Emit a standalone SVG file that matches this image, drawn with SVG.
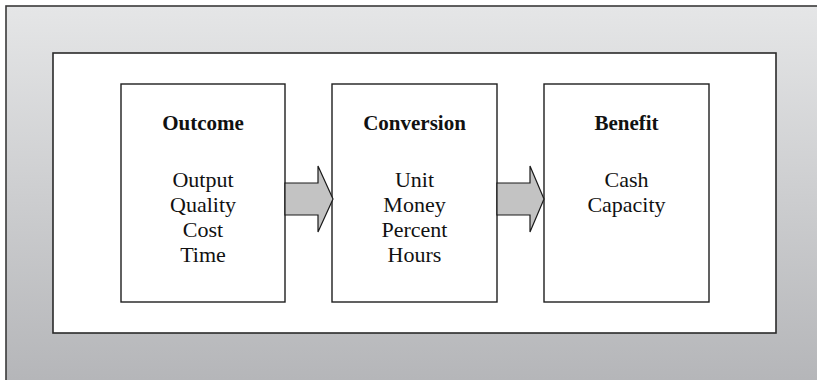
<svg xmlns="http://www.w3.org/2000/svg" width="817" height="380" viewBox="0 0 817 380">
  <defs>
    <linearGradient id="bgGrad" gradientUnits="userSpaceOnUse" x1="0" y1="6" x2="0" y2="380">
      <stop offset="0" stop-color="#e5e6e7"/>
      <stop offset="1" stop-color="#b5b6b9"/>
    </linearGradient>
  </defs>
  <style>
    .frame { fill: url(#bgGrad); stroke: #3a3a3a; stroke-width: 1.6; }
    .panel { fill: #ffffff; stroke: #2a2a2a; stroke-width: 1.6; }
    .box { fill: #ffffff; stroke: #1e1e1e; stroke-width: 1.4; }
    .arrow { fill: #c3c3c3; stroke: #1a1a1a; stroke-width: 1.2; stroke-linejoin: miter; }
    .title { font-family: "Liberation Serif", "Times New Roman", serif; font-size: 21px; font-weight: bold; fill: #111; text-anchor: middle; }
    .item { font-family: "Liberation Serif", "Times New Roman", serif; font-size: 22px; fill: #111; text-anchor: middle; }
  </style>

  <!-- background frame, running off the right and bottom edges -->
  <rect class="frame" x="6" y="6" width="830" height="400"/>
  <!-- white panel -->
  <rect class="panel" x="53" y="53" width="723" height="280"/>

  <g id="outcome">
    <rect class="box" x="121" y="84" width="164" height="218"/>
    <text class="title" x="203" y="130">Outcome</text>
    <text class="item" x="203" y="187">Output</text>
    <text class="item" x="203" y="212">Quality</text>
    <text class="item" x="203" y="237">Cost</text>
    <text class="item" x="203" y="262">Time</text>
  </g>

  <g id="conversion">
    <rect class="box" x="332" y="84" width="165" height="218"/>
    <text class="title" x="414.5" y="130">Conversion</text>
    <text class="item" x="414.5" y="187">Unit</text>
    <text class="item" x="414.5" y="212">Money</text>
    <text class="item" x="414.5" y="237">Percent</text>
    <text class="item" x="414.5" y="262">Hours</text>
  </g>

  <g id="benefit">
    <rect class="box" x="544" y="84" width="165" height="218"/>
    <text class="title" x="626.5" y="130">Benefit</text>
    <text class="item" x="626.5" y="187">Cash</text>
    <text class="item" x="626.5" y="212">Capacity</text>
  </g>

  <g id="connectors">
    <path class="arrow" d="M285,183 H318 V166 L333,199 L318,232 V215 H285 Z"/>
    <path class="arrow" d="M497,183 H530 V166 L544,199 L530,232 V215 H497 Z"/>
  </g>
</svg>
